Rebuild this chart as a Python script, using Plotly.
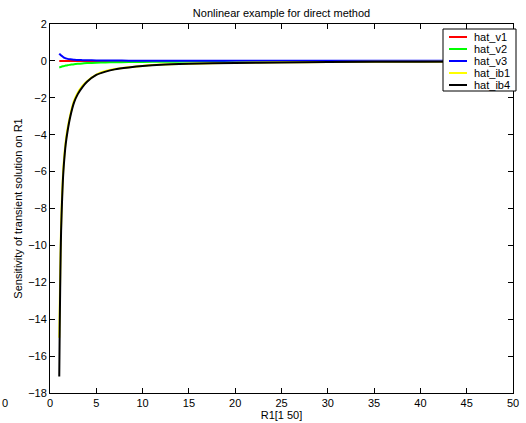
import plotly.graph_objects as go

# Sensitivity of the transient solution with respect to R1
r1 = [1.0, 1.05, 1.1, 1.15, 1.2, 1.3, 1.4, 1.5, 1.7, 1.9, 2.2, 2.6, 3.0, 3.5,
      4.0, 5.0, 6.0, 7.0, 8.5, 10, 12, 15, 20, 25, 30, 40, 50]

hat_v1 = [0.0, 0.0, 0.0, 0.0, 0.0, 0.0, 0.0, 0.0, 0.0, 0.0, 0.0, 0.0, 0.0, 0.0,
          0.0, 0.0, 0.0, 0.0, 0.0, 0.0, 0.0, 0.0, 0.0, 0.0, 0.0, 0.0, 0.0]
hat_v2 = [-0.36, -0.35, -0.34, -0.33, -0.32, -0.30, -0.29, -0.28, -0.25, -0.23, -0.21,
          -0.18, -0.16, -0.14, -0.12, -0.10, -0.085, -0.075, -0.062, -0.055, -0.045,
          -0.035, -0.022, -0.016, -0.012, -0.008, -0.005]
hat_v3 = [0.40, 0.37, 0.34, 0.32, 0.30, 0.26, 0.22, 0.18, 0.14, 0.11, 0.085, 0.065,
          0.05, 0.042, 0.035, 0.025, 0.02, 0.017, 0.014, 0.01, 0.009, 0.007, 0.005,
          0.004, 0.003, 0.002, 0.002]
hat_ib1 = [-15.0, -13.3, -11.6, -10.1, -8.9, -7.3, -6.2, -5.4, -4.35, -3.65, -2.9,
           -2.15, -1.72, -1.36, -1.1, -0.74, -0.55, -0.44, -0.34, -0.27, -0.2,
           -0.15, -0.10, -0.075, -0.06, -0.04, -0.03]
hat_ib4 = [-17.1, -14.5, -12.3, -10.5, -9.2, -7.6, -6.4, -5.6, -4.5, -3.8, -3.0,
           -2.25, -1.8, -1.42, -1.13, -0.76, -0.58, -0.46, -0.36, -0.28, -0.21,
           -0.16, -0.11, -0.08, -0.06, -0.04, -0.03]

series = [
    ("hat_v1", hat_v1, "#ff0000"),
    ("hat_v2", hat_v2, "#00ff00"),
    ("hat_v3", hat_v3, "#0000ff"),
    ("hat_ib1", hat_ib1, "#ffff00"),
    ("hat_ib4", hat_ib4, "#000000"),
]

x_ticks = list(range(0, 51, 5))
y_ticks = list(range(-18, 3, 2))

FONT = "Liberation Sans, Arial, Helvetica, sans-serif"
W, H = 526, 423
ML, MR, MT, MB = 50, 13, 24, 30
PW, PH = W - ML - MR, H - MT - MB


def px_x(px):
    """Pixel column -> paper x."""
    return (px - ML) / PW


def px_y(py):
    """Pixel row -> paper y."""
    return (H - MB - py) / PH


fig = go.Figure()
for name, vals, color in series:
    fig.add_trace(go.Scatter(
        x=r1, y=vals, name=name, mode="lines", showlegend=False,
        line=dict(color=color, width=2, shape="spline", smoothing=0.6),
    ))

axis_common = dict(
    showline=True, linecolor="black", linewidth=1, mirror="ticks",
    ticks="inside", ticklen=5, tickcolor="black", tickwidth=1,
    showgrid=False, zeroline=False, automargin=False,
    tickfont=dict(family=FONT, size=11, color="black"),
)

# compact boxed legend in the upper right corner
shapes = [dict(type="rect", xref="paper", yref="paper",
               x0=px_x(443), x1=px_x(516), y0=px_y(91), y1=px_y(29),
               line=dict(color="black", width=1), fillcolor="white", layer="above")]
annotations = []
for i, (name, _, color) in enumerate(series):
    row = 37 + 12 * i
    shapes.append(dict(type="line", xref="paper", yref="paper",
                       x0=px_x(449), x1=px_x(467), y0=px_y(row), y1=px_y(row),
                       line=dict(color=color, width=2), layer="above"))
    annotations.append(dict(text=name, xref="paper", yref="paper",
                            x=px_x(472), y=px_y(row), xanchor="left", yanchor="middle",
                            showarrow=False,
                            font=dict(family=FONT, size=11, color="black")))

annotations.append(dict(text="0", xref="paper", yref="paper", x=px_x(5), y=px_y(403),
                        xanchor="center", yanchor="middle", showarrow=False,
                        font=dict(family=FONT, size=11, color="black")))

fig.update_layout(
    width=W, height=H,
    margin=dict(l=ML, r=MR, t=MT, b=MB, autoexpand=False),
    paper_bgcolor="white", plot_bgcolor="white",
    title=dict(text="Nonlinear example for direct method", x=0.5, xref="paper",
               xanchor="center", y=1 - 13 / H, yanchor="middle",
               font=dict(family=FONT, size=11, color="black")),
    xaxis=dict(range=[0, 50], tickvals=x_ticks,
               title=dict(text="R1[1 50]", standoff=0,
                          font=dict(family=FONT, size=11, color="black")),
               **axis_common),
    yaxis=dict(range=[-18, 2], tickvals=y_ticks,
               title=dict(text="Sensitivity of transient solution on R1", standoff=3,
                          font=dict(family=FONT, size=11, color="black")),
               **axis_common),
    showlegend=False,
    shapes=shapes,
    annotations=annotations,
)

fig.write_html("out.html")
